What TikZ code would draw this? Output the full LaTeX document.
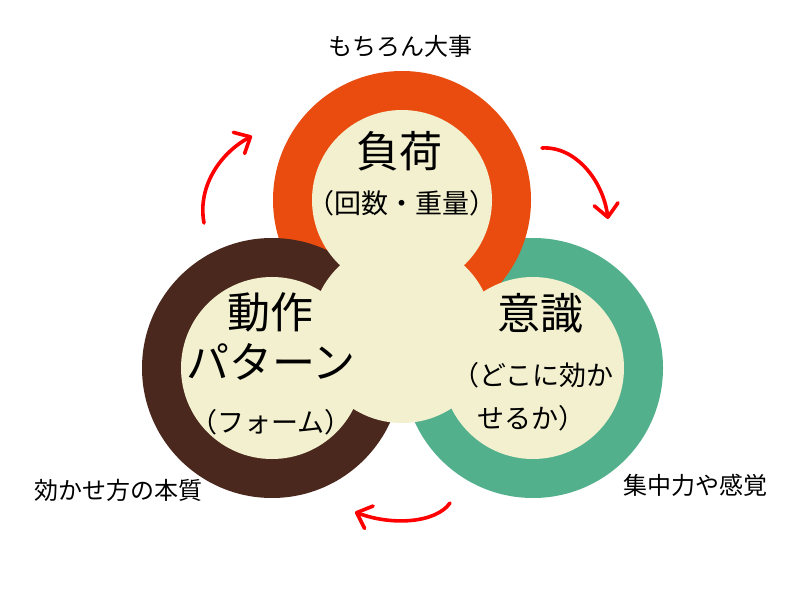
\documentclass[tikz,border=0pt]{standalone}
\usepackage{fontspec}
\newfontfamily\jp{Noto Sans CJK JP}
\usetikzlibrary{arrows.meta}
\definecolor{ringO}{RGB}{234,76,16}
\definecolor{ringB}{RGB}{75,40,30}
\definecolor{ringG}{RGB}{82,176,140}
\definecolor{cream}{RGB}{242,240,206}
\definecolor{arrowred}{RGB}{255,0,0}
\tikzset{
  bigtxt/.style={font=\jp\fontsize{43}{48}\selectfont, inner sep=0pt, text=black},
  partxt/.style={font=\jp\fontsize{27}{32}\selectfont, inner sep=0pt, text=black},
  smalltxt/.style={font=\jp\fontsize{24}{28}\selectfont, inner sep=0pt, text=black},
  cycarrow/.style={draw=arrowred, line width=3.6pt, line cap=round,
     -{Straight Barb[length=13pt,width=24pt,line cap=round,line join=round]}},
}
\begin{document}
\begin{tikzpicture}[x=1pt,y=-1pt]
\useasboundingbox (0,0) rectangle (800,601);
\fill[white] (0,0) rectangle (800,601);
\coordinate (cO) at (402,200);
\coordinate (cB) at (272,368);
\coordinate (cG) at (533,368);
\coordinate (cM) at (402,332);
% rings
\fill[ringG] (cG) circle[radius=130pt];
\fill[ringO] (cO) circle[radius=129pt];
\fill[ringB] (cB) circle[radius=130pt];
% cream discs
\fill[cream] (cO) circle[radius=90pt];
\fill[cream] (cB) circle[radius=91pt];
\fill[cream] (cG) circle[radius=91pt];
\fill[cream] (cM) circle[radius=91pt];
% texts
\node[smalltxt] (top) at (400,46) {もちろん大事};
\node[bigtxt] (load) at (399,151) {負荷};
\node[partxt] (loadsub) at (402,203) {（回数・重量）};
\node[bigtxt] (mov1) at (270,312) {動作};
\node[bigtxt] (mov2) at (271,362) {パターン};
\node[partxt] (movsub) at (271,422) {（フォーム）};
\node[bigtxt] (aware) at (540,313) {意識};
\node[partxt] (aware1) at (533,375) {（どこに効か};
\node[partxt] (aware2) at (531,418) {せるか）};
\node[smalltxt] (lbl) at (118,490) {効かせ方の本質};
\node[smalltxt] (rbl) at (695,485) {集中力や感覚};
% arrows
\coordinate (a1s) at (204,223);
\coordinate (a1e) at (252,136);
\coordinate (a2s) at (542,148);
\coordinate (a2e) at (608,219);
\coordinate (a3s) at (450,503);
\coordinate (a3e) at (355,512);
\draw[cycarrow] (a1s) .. controls (197,185) and (222,152) .. (a1e);
\draw[cycarrow] (a2s) .. controls (575,146) and (603,180) .. (a2e);
\draw[cycarrow] (a3s) .. controls (436,523) and (392,526) .. (a3e);
\end{tikzpicture}
\end{document}
